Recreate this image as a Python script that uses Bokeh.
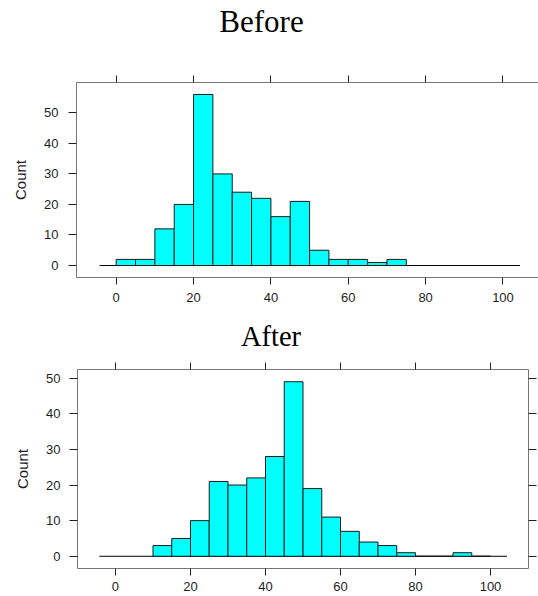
from bokeh.plotting import figure
from bokeh.models import LinearAxis, FixedTicker, Range1d, CustomJSTickFormatter, Div
from bokeh.embed import file_html
from bokeh.resources import INLINE

# Histogram counts in 5-unit bins (left bin edges and counts)
bin_width = 5
before_left = [0, 5, 10, 15, 20, 25, 30, 35, 40, 45, 50, 55, 60, 65, 70]
before_counts = [2, 2, 12, 20, 56, 30, 24, 22, 16, 21, 5, 2, 2, 1, 2]
after_left = [10, 15, 20, 25, 30, 35, 40, 45, 50, 55, 60, 65, 70, 75, 80, 85, 90, 95]
after_counts = [3, 5, 10, 21, 20, 22, 28, 49, 19, 11, 7, 4, 3, 1, 0, 0, 1, 0]

x_ticks = [0, 20, 40, 60, 80, 100]
y_ticks = [0, 10, 20, 30, 40, 50]
hist_span = [-4.3, 104.4]

FRAME = "#777777"
TICK = "#222222"
TEXT = "#1e1e1e"
SANS = "Liberation Sans"
SERIF = "Liberation Serif"


def styled_axis(ticks, tick_len, standoff, labels=True):
    ax = LinearAxis(ticker=FixedTicker(ticks=ticks))
    ax.major_tick_out = tick_len
    ax.major_tick_in = 0
    ax.minor_tick_out = 0
    ax.minor_tick_in = 0
    ax.major_tick_line_color = TICK
    ax.axis_line_color = FRAME
    ax.major_label_text_font = SANS
    ax.major_label_text_font_size = "13px"
    ax.major_label_text_color = TEXT
    ax.major_label_standoff = standoff
    if not labels:
        ax.formatter = CustomJSTickFormatter(code="return ''")
        ax.major_label_text_font_size = "0px"
    return ax


def heading(text, size, height, pad_top, pad_left, pad_right):
    return Div(
        text=(f'<div style="font-family: \'{SERIF}\'; font-size: {size}px; line-height: 1; '
              f'color: black; text-align: center; box-sizing: border-box; width: 538px; '
              f'margin: 0; padding: {pad_top}px {pad_right}px 0 {pad_left}px;">{text}</div>'),
        width=538, height=height, margin=0)


def panel(lefts, counts, x_range, height, borders, x_std, y_std, right_axis):
    top_count = max(counts)
    p = figure(width=538, height=height,
               x_range=Range1d(*x_range),
               y_range=Range1d(-0.07 * top_count, 1.07 * top_count),
               x_axis_location=None, y_axis_location=None,
               toolbar_location=None, output_backend="svg", margin=0,
               min_border_left=borders[0], min_border_right=borders[1],
               min_border_top=borders[2], min_border_bottom=borders[3])
    p.grid.visible = False
    p.outline_line_color = None
    p.background_fill_color = "white"
    p.border_fill_color = "white"

    left_ax = styled_axis(y_ticks, 8, y_std)
    left_ax.axis_label = "Count"
    left_ax.axis_label_text_font = SANS
    left_ax.axis_label_text_font_size = "15px"
    left_ax.axis_label_text_font_style = "normal"
    left_ax.axis_label_text_color = TEXT
    left_ax.axis_label_standoff = 12
    p.add_layout(left_ax, "left")
    p.add_layout(styled_axis(x_ticks, 7, x_std), "below")
    p.add_layout(styled_axis(x_ticks, 7, 0, labels=False), "above")
    if right_axis:
        p.add_layout(styled_axis(y_ticks, 8, 0, labels=False), "right")

    p.line(hist_span, [0, 0], line_color="black", line_width=1)
    rights = [l + bin_width for l in lefts]
    p.quad(left=lefts, right=rights, bottom=0, top=counts,
           fill_color="#00FFFF", line_color="#1a1a1a", line_width=1)
    return p


title_before = heading("Before", 31, 50, 6, 0, 15)
before = panel(before_left, before_counts, (-10.26, 109.18), 262, (76, 0, 32, 35), 8, 10, False)
title_after = heading("After", 28.5, 48, 11, 4, 0)
after = panel(after_left, after_counts, (-10.13, 110.13), 236, (77, 10, 9, 28), 6, 9, True)

open("out.html", "w").write(file_html([title_before, before, title_after, after], INLINE))
